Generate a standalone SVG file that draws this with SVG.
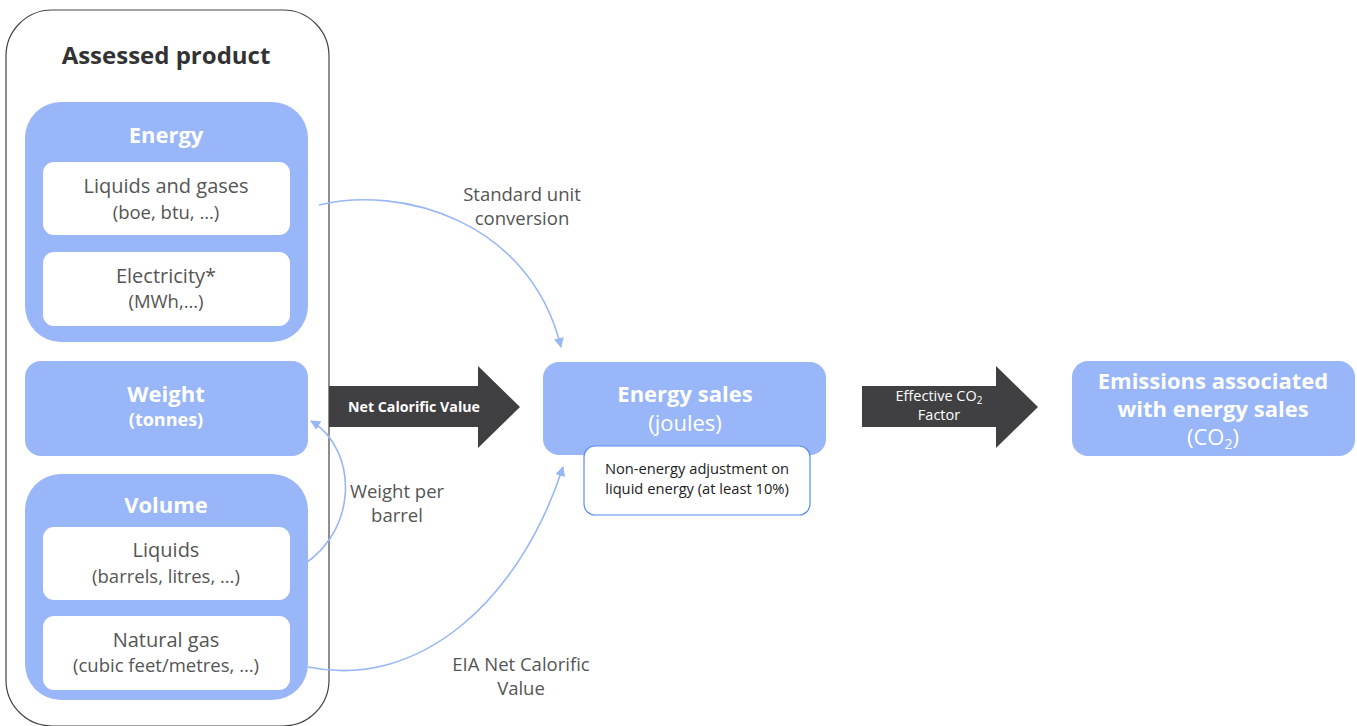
<svg xmlns="http://www.w3.org/2000/svg" width="1357" height="726" viewBox="0 0 1357 726">
<defs>
<style>
.blue{fill:#98b6f8}
.white{fill:#ffffff}
.t{font-family:"Open Sans","Liberation Sans",sans-serif;text-anchor:middle}
.hw{fill:#ffffff;font-weight:bold;font-size:22px}
.sub{fill:#555555;font-size:20px}
.sub2{fill:#555555;font-size:18.5px}
.lbl{fill:#555555;font-size:18.5px}
.ar{fill:#404043}
.con{fill:none;stroke:#98b6f8;stroke-width:1.6}
</style>
<marker id="ah" viewBox="0 0 10 10" refX="9" refY="5" markerWidth="10" markerHeight="10" markerUnits="userSpaceOnUse" orient="auto">
<path d="M0,0 L10,5 L0,10 z" fill="#98b6f8"/>
</marker>
</defs>
<rect width="1357" height="726" fill="#ffffff"/>
<g id="assessed">
<rect x="6" y="10" width="323" height="716" rx="46" fill="#ffffff" stroke="#444444" stroke-width="1.2"/>
<text class="t" x="166" y="64" font-size="24" font-weight="bold" fill="#333333">Assessed product</text>
</g>
<g id="energy">
<rect class="blue" x="25" y="102" width="283" height="240" rx="36"/>
<text class="t hw" x="166" y="143">Energy</text>
</g>
<g id="liquids-gases">
<rect class="white" x="43" y="162" width="247" height="73" rx="11"/>
<text class="t sub" x="166" y="193">Liquids and gases</text>
<text class="t sub2" x="166" y="219">(boe, btu, …)</text>
</g>
<g id="electricity">
<rect class="white" x="43" y="252" width="247" height="74" rx="11"/>
<text class="t sub" x="166" y="283">Electricity*</text>
<text class="t sub2" x="166" y="308">(MWh,…)</text>
</g>
<g id="weight">
<rect class="blue" x="25" y="361" width="283" height="95" rx="16"/>
<text class="t hw" x="166" y="402">Weight</text>
<text class="t" x="166" y="426" fill="#ffffff" font-weight="bold" font-size="18">(tonnes)</text>
</g>
<g id="volume">
<rect class="blue" x="25" y="474" width="283" height="226" rx="36"/>
<text class="t hw" x="166" y="513">Volume</text>
</g>
<g id="liquids">
<rect class="white" x="43" y="527" width="247" height="73" rx="11"/>
<text class="t sub" x="166" y="557">Liquids</text>
<text class="t sub2" x="166" y="583">(barrels, litres, …)</text>
</g>
<g id="natural-gas">
<rect class="white" x="43" y="616" width="247" height="74" rx="11"/>
<text class="t sub" x="166" y="647">Natural gas</text>
<text class="t sub2" x="166" y="672">(cubic feet/metres, …)</text>
</g>
<g id="ncv-arrow">
<path class="ar" d="M329,386 H478 V366 L520,407 L478,448 V427 H329 z"/>
<text class="t" x="414" y="412" fill="#ffffff" font-weight="bold" font-size="14.2">Net Calorific Value</text>
</g>
<g id="energy-sales">
<rect class="blue" x="543" y="362" width="283" height="93" rx="16"/>
<text class="t hw" x="685" y="402">Energy sales</text>
<text class="t" x="685" y="431" fill="#ffffff" font-size="22">(joules)</text>
</g>
<g id="non-energy">
<rect x="584" y="446" width="226" height="69" rx="11" fill="#ffffff" stroke="#5b8def" stroke-width="1.2"/>
<text class="t" x="697" y="474" fill="#222222" font-size="14.7">Non-energy adjustment on</text>
<text class="t" x="697" y="494" fill="#222222" font-size="14.7">liquid energy (at least 10%)</text>
</g>
<g id="co2-arrow">
<path class="ar" d="M862,386 H996 V366 L1038,407 L996,448 V427 H862 z"/>
<text class="t" x="939" y="401" fill="#ffffff" font-size="14.5">Effective CO<tspan font-size="10" dy="3">2</tspan></text>
<text class="t" x="939" y="420" fill="#ffffff" font-size="14.5">Factor</text>
</g>
<g id="emissions">
<rect class="blue" x="1072" y="361" width="283" height="95" rx="16"/>
<text class="t hw" x="1213" y="389">Emissions associated</text>
<text class="t hw" x="1213" y="417">with energy sales</text>
<text class="t" x="1213" y="445" fill="#ffffff" font-size="22">(CO<tspan font-size="14" dy="4">2</tspan><tspan dy="-4">)</tspan></text>
</g>
<g id="connectors">
<path class="con" d="M319,205 C400,185 530,220 561,347" marker-end="url(#ah)"/>
<path class="con" d="M290,572 C360,540 360,450 311,421" marker-end="url(#ah)"/>
<path class="con" d="M308,667 C420,690 520,600 563,467" marker-end="url(#ah)"/>
<text class="t lbl" x="522" y="201">Standard unit</text>
<text class="t lbl" x="522" y="225">conversion</text>
<text class="t lbl" x="397" y="498">Weight per</text>
<text class="t lbl" x="397" y="522">barrel</text>
<text class="t lbl" x="521" y="671">EIA Net Calorific</text>
<text class="t lbl" x="521" y="695">Value</text>
</g>
</svg>
